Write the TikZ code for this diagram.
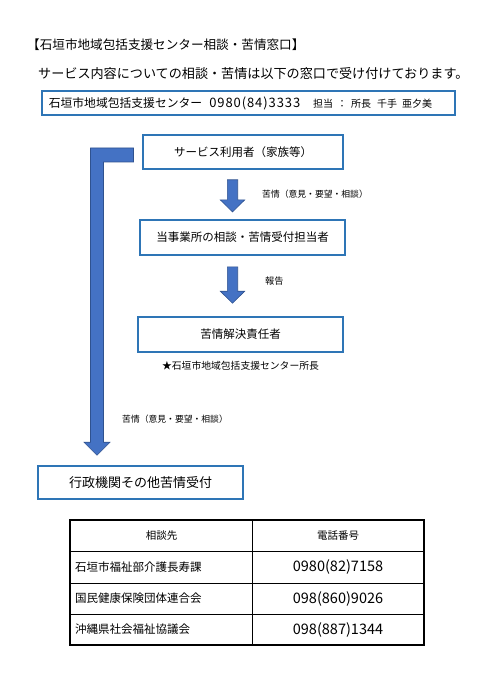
\documentclass[tikz,border=0pt]{standalone}
\usepackage{fontspec}
\setmainfont{Noto Sans CJK JP}
\usetikzlibrary{positioning,calc}
\definecolor{wakuiro}{RGB}{46,117,182}
\definecolor{yajiiro}{RGB}{68,114,196}
\definecolor{yajisen}{RGB}{47,82,143}

% 下向きの矢印 (#1 = 上端, #2 = 先端)
\newcommand{\shitayaji}[2]{%
  \draw[yaji] let \p1=(#1), \p2=(#2) in
    (\x1-5.2pt,\y1) -- (\x1+5.2pt,\y1) -- (\x1+5.2pt,\y2+12pt) -- (\x1+12.2pt,\y2+12pt)
    -- (\x2,\y2) -- (\x1-12.2pt,\y2+12pt) -- (\x1-5.2pt,\y2+12pt) -- cycle;}

\begin{document}
\begin{tikzpicture}[x=1pt,y=-1pt,
    waku/.style={draw=wakuiro,line width=1.6pt,inner sep=0pt,minimum width=205pt,minimum height=35pt,
      font=\fontsize{11.5}{13}\selectfont},
    yaji/.style={fill=yajiiro,draw=yajisen,line width=0.6pt},
    chu/.style={font=\fontsize{8.8}{10}\selectfont,anchor=west,inner sep=0pt},
    hyo/.style={font=\fontsize{11.5}{13}\selectfont,inner sep=0pt}]
        \fill[white] (0,0) rectangle (495,700);
        \useasboundingbox (0,0) rectangle (495,700);

        % 見出し
        \node[anchor=west,inner sep=0pt,font=\fontsize{12.6}{14}\selectfont] (midashi) at (27,45) {【石垣市地域包括支援センター相談・苦情窓口】};
        \node[anchor=west,inner sep=0pt,font=\fontsize{13.1}{15}\selectfont] (setsumei) at (38,74) {サービス内容についての相談・苦情は以下の窓口で受け付けております。};
        \node[waku,anchor=west,minimum width=413pt,minimum height=24pt,text width=399pt,align=left,
          font=\fontsize{11.8}{13}\selectfont] (center) at (41,103)
          {石垣市地域包括支援センター\hspace{0.6em}{\fontsize{13}{14}\selectfont\addfontfeature{LetterSpace=7}0980(84)3333}\hspace{1.1em}{\fontsize{10}{11}\selectfont 担当 ： 所長\hspace{0.6em}千手\hspace{0.5em}亜夕美}};

        % 流れ
        \node[waku,minimum width=200pt,minimum height=34pt] (riyosha) at (243,152) {サービス利用者（家族等）};
        \node[waku] (tanto) at (242.5,237.5) {当事業所の相談・苦情受付担当者};
        \node[waku] (sekinin) at (240.5,334.5) {苦情解決責任者};
        \node[inner sep=0pt,font=\fontsize{9.8}{11}\selectfont,below=8pt of sekinin] (shocho) {★石垣市地域包括支援センター所長};
        \node[waku,minimum height=33pt,font=\fontsize{13}{15}\selectfont] (gyosei) at (140.5,482.5) {行政機関その他苦情受付};

        \coordinate (y1s) at ($(riyosha.south)+(-10.5,10)$);
        \coordinate (y1e) at ($(tanto.north)+(-10,-7.3)$);
        \shitayaji{y1s}{y1e}
        \node[chu] (ku1) at ($(y1s)+(29.5,14)$) {苦情（意見・要望・相談）};

        \coordinate (y2s) at ($(tanto.south)+(-10,11)$);
        \coordinate (y2e) at ($(sekinin.north)+(-8,-13)$);
        \shitayaji{y2s}{y2e}
        \node[chu,font=\fontsize{9.2}{11}\selectfont] (hokoku) at ($(y2s)+(32.5,14)$) {報告};

        % 曲がり矢印
        \coordinate (ks) at ($(riyosha.west)+(-8.7,3)$);
        \coordinate (kt) at ($(gyosei.north)+(-43.5,-10)$);
        \draw[yaji] let \p1=(ks), \p2=(kt) in
          (\x1,\y1+7pt) -- (\x2-6.5pt,\y1+7pt) -- (\x2-6.5pt,\y2+13pt) -- (\x2-13pt,\y2+13pt)
          -- (\x2,\y2) -- (\x2+13pt,\y2+13pt) -- (\x2+6.5pt,\y2+13pt) -- (\x2+6.5pt,\y1-7pt) -- (\x1,\y1-7pt) -- cycle;
        \node[chu] (ku2) at (122,419) {苦情（意見・要望・相談）};

        % 相談先の表
        \draw[line width=1.1pt] (70,520) rectangle (424,645);
        \draw[line width=0.9pt] (70,551) -- (424,551) (70,583) -- (424,583) (70,614) -- (424,614) (252.7,520) -- (252.7,645);
        \node[hyo,font=\fontsize{10.5}{12}\selectfont] (h1) at (161.5,536) {相談先};
        \node[hyo,font=\fontsize{10.5}{12}\selectfont] (h2) at (338,536) {電話番号};
        \node[hyo,anchor=west] (s1) at (75,567) {石垣市福祉部介護長寿課};
        \node[hyo,anchor=west] (s2) at (75,598.5) {国民健康保険団体連合会};
        \node[hyo,anchor=west] (s3) at (75,629.5) {沖縄県社会福祉協議会};
        \node[hyo,font=\fontsize{14.5}{16}\selectfont] (t1) at (338,567) {0980(82)7158};
        \node[hyo,font=\fontsize{14.5}{16}\selectfont] (t2) at (338,598.5) {098(860)9026};
        \node[hyo,font=\fontsize{14.5}{16}\selectfont] (t3) at (338,629.5) {098(887)1344};
\end{tikzpicture}
\end{document}
